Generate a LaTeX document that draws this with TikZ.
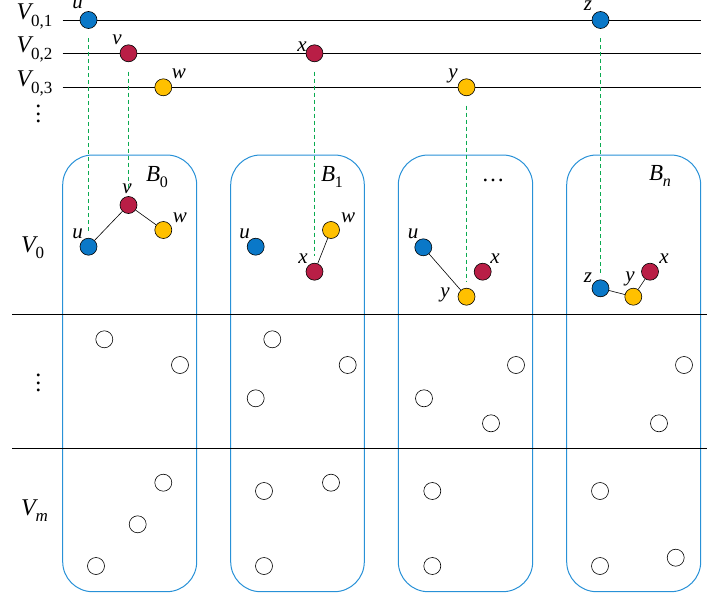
\documentclass[tikz,border=0pt]{standalone}
\usepackage{fontspec}
\setmainfont{Liberation Serif}
\definecolor{cblue}{RGB}{10,120,200}
\definecolor{cred}{RGB}{185,30,70}
\definecolor{cyel}{RGB}{255,192,0}
\definecolor{cbox}{RGB}{40,145,215}
\definecolor{cgreen}{RGB}{10,170,80}
\newcommand\mysub[2]{{\itshape #1}\kern-0.3pt\raisebox{-0.28em}{\fontsize{17}{17}\selectfont #2}}
\newcommand\mybsub[2]{{\itshape #1}\kern-0.3pt\raisebox{-0.28em}{\fontsize{16}{16}\selectfont #2}}
\newcommand\myvdots{\vbox{\baselineskip=7.9pt\lineskiplimit=-20pt\hbox{.}\hbox{.}\hbox{.}}}
\begin{document}
\begin{tikzpicture}[x=1pt,y=-1pt,
  vert/.style={circle,draw=black,line width=0.6pt,minimum size=17pt,inner sep=0pt},
  bl/.style={vert,fill=cblue},
  rd/.style={vert,fill=cred},
  yl/.style={vert,fill=cyel},
  emp/.style={vert,fill=white},
  lab/.style={anchor=base,font=\fontsize{21}{21}\selectfont\itshape,inner sep=0pt},
  big/.style={font=\fontsize{24}{24}\selectfont,inner sep=0pt},
  bagl/.style={font=\fontsize{23}{23}\selectfont,inner sep=0pt},
  bag/.style={draw=cbox,line width=1pt,rounded corners=30pt},
  proj/.style={draw=cgreen,dash pattern=on 4pt off 3pt,line width=1.1pt,shorten <=9.5pt,shorten >=7pt},
  edge/.style={draw=black,line width=0.6pt},
  rule/.style={draw=black,line width=0.8pt}]
\useasboundingbox (0,0) rectangle (707,594);

% bags
\draw[bag] (62.7,591.7) rectangle (196.7,155);
\draw[bag] (230.7,591.7) rectangle (364.3,155);
\draw[bag] (398.3,591.7) rectangle (532.7,155);
\draw[bag] (566.7,591.7) rectangle (700.7,155);

% separators
\coordinate (s1a) at (12,314.3); \coordinate (s1b) at (707,314.3);
\coordinate (s2a) at (12,448.3); \coordinate (s2b) at (707,448.3);
\draw[rule] (s1a) -- (s1b);
\draw[rule] (s2a) -- (s2b);

% top lines
\coordinate (l1a) at (62.7,20); \coordinate (l1b) at (700.7,20);
\coordinate (l2a) at (62.7,53.3); \coordinate (l2b) at (700.7,53.3);
\coordinate (l3a) at (62.7,87.3); \coordinate (l3b) at (700.7,87.3);
\draw[rule] (l1a) -- (l1b);
\draw[rule] (l2a) -- (l2b);
\draw[rule] (l3a) -- (l3b);

% left labels
\node[big,anchor=base west] (L1) at (16.5,19.5) {\mysub{V}{0,1}};
\node[big,anchor=base west] (L2) at (16.5,53) {\mysub{V}{0,2}};
\node[big,anchor=base west] (L3) at (16.5,87) {\mysub{V}{0,3}};
\node[big] (Ld1) at (38.3,114) {\myvdots};
\node[big,anchor=base west] (LV0) at (21,252) {\mysub{V}{0}};
\node[big] (Ld2) at (38.3,383) {\myvdots};
\node[big,anchor=base west] (LVm) at (21,515) {\mysub{V}{\itshape m}};

% bag labels
\node[bagl,anchor=base west] (B0) at (146,181) {\mybsub{B}{0}};
\node[bagl,anchor=base west] (B1) at (321,181) {\mybsub{B}{1}};
\node[bagl,anchor=base] (B2) at (493,181) {\ldots};
\node[bagl,anchor=base west] (B3) at (649,180) {\mybsub{B}{\itshape n}};

% top vertices
\node[bl] (tu) at (88.5,20) {};
\node[rd] (tv) at (128.5,53.3) {};
\node[yl] (tw) at (163.3,87.3) {};
\node[rd] (tx) at (314.5,53.3) {};
\node[yl] (ty) at (466.5,87.3) {};
\node[bl] (tz) at (600.5,20) {};
\node[lab] (ltu) at (77.5,8.5) {u};
\node[lab] (ltv) at (117,45) {v};
\node[lab] (ltw) at (179,78) {w};
\node[lab] (ltx) at (302,52) {x};
\node[lab] (lty) at (453,79) {y};
\node[lab] (ltz) at (588,11) {z};

% bag 0
\node[bl] (au) at (88.5,246.7) {};
\node[rd] (av) at (128.5,205) {};
\node[yl] (aw) at (163.3,230) {};
\node[lab] (lau) at (77.5,238.5) {u};
\node[lab] (lav) at (127,193) {v};
\node[lab] (law) at (180,222) {w};
\draw[edge] (au) -- (av);
\draw[edge] (av) -- (aw);

% bag 1
\node[bl] (bu) at (255.7,246.7) {};
\node[yl] (bw) at (331,230) {};
\node[rd] (bx) at (314.5,271.7) {};
\node[lab] (lbu) at (244.5,238.5) {u};
\node[lab] (lbw) at (348,222) {w};
\node[lab] (lbx) at (303,263.5) {x};
\draw[edge] (bx) -- (bw);

% bag 2
\node[bl] (cu) at (423.3,247.3) {};
\node[rd] (cx) at (482.7,271.7) {};
\node[yl] (cy) at (466.5,296.7) {};
\node[lab] (lcu) at (413,238.5) {u};
\node[lab] (lcx) at (495,263) {x};
\node[lab] (lcy) at (445,297.5) {y};
\draw[edge] (cu) -- (cy);

% bag n
\node[bl] (dz) at (600.5,288.3) {};
\node[yl] (dy) at (633.3,296.7) {};
\node[rd] (dx) at (650,271.7) {};
\node[lab] (ldz) at (588,282) {z};
\node[lab] (ldy) at (630,281) {y};
\node[lab] (ldx) at (664,263) {x};
\draw[edge] (dz) -- (dy);
\draw[edge] (dy) -- (dx);

% projections
\draw[proj] (tu) -- (au);
\draw[proj] (tv) -- (av);
\draw[proj] (tx) -- (bx);
\draw[proj] (ty) -- (cy);
\draw[proj] (tz) -- (dz);

% empty vertices
\node[emp] (e1) at (104.3,339.3) {};
\node[emp] (e2) at (180,365) {};
\node[emp] (e3) at (163.3,482.7) {};
\node[emp] (e4) at (137.7,524.3) {};
\node[emp] (e5) at (96,566) {};
\node[emp] (f1) at (272.3,339.3) {};
\node[emp] (f2) at (347.7,365) {};
\node[emp] (f3) at (255.7,398.3) {};
\node[emp] (f4) at (264,491) {};
\node[emp] (f5) at (331,482.7) {};
\node[emp] (f6) at (264,566) {};
\node[emp] (g1) at (516,365) {};
\node[emp] (g2) at (424,398.3) {};
\node[emp] (g3) at (491,423.3) {};
\node[emp] (g4) at (432.3,491) {};
\node[emp] (g5) at (432.3,566) {};
\node[emp] (h1) at (684,365) {};
\node[emp] (h2) at (659,423.3) {};
\node[emp] (h3) at (600,491) {};
\node[emp] (h4) at (600,566) {};
\node[emp] (h5) at (675.7,557.7) {};
\end{tikzpicture}
\end{document}
